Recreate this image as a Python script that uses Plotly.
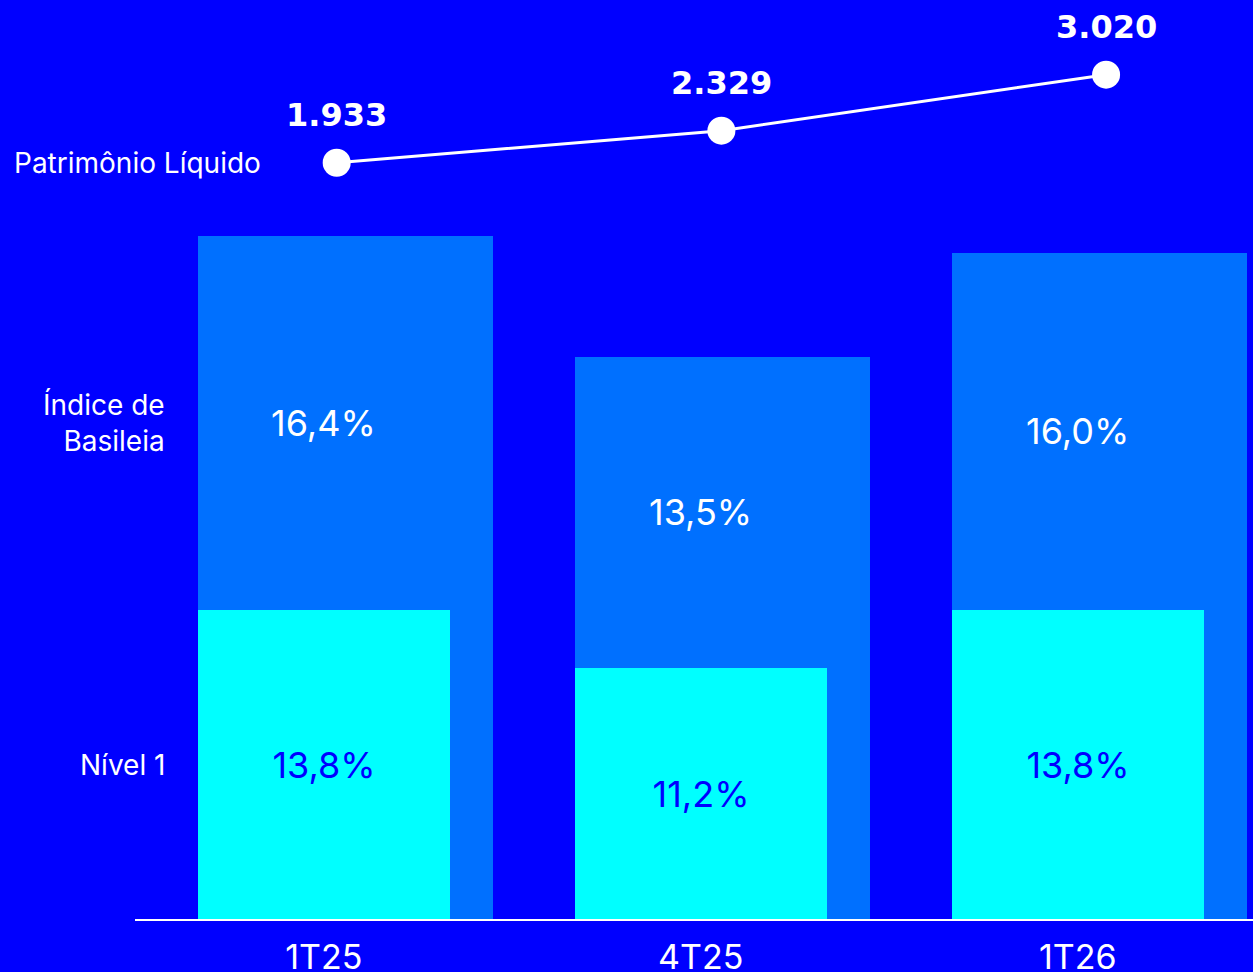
import plotly.graph_objects as go

categories = ["1T25", "4T25", "1T26"]
basileia = [16.4, 13.5, 16.0]
nivel1 = [13.8, 11.2, 13.8]
patrimonio = [1933, 2329, 3020]

basileia_labels = ["16,4%", "13,5%", "16,0%"]
nivel1_labels = ["13,8%", "11,2%", "13,8%"]
patrimonio_labels = ["1.933", "2.329", "3.020"]

BG = "#0000FF"
OUTER = "#0070FF"
INNER = "#00FFFF"
WHITE = "#FFFFFF"
FONT = "Inter"

W, H = 1253, 972
plot_h = 920

xpos = list(range(len(categories)))

y_max = 22.06
y2_max = 40.89
y3_range = [-7416, 3942]

fig = go.Figure()

fig.add_trace(go.Bar(
    x=xpos, y=basileia, marker=dict(color=OUTER, line=dict(width=0)),
    width=0.7825, offset=-0.3335, xaxis="x", yaxis="y",
    hoverinfo="skip", showlegend=False,
))
fig.add_trace(go.Bar(
    x=xpos, y=nivel1, marker=dict(color=INNER, line=dict(width=0)),
    width=0.667, offset=-0.3335, xaxis="x", yaxis="y2",
    text=nivel1_labels, textposition="inside", insidetextanchor="middle",
    textangle=0, textfont=dict(family=FONT, size=36, color=BG),
    hoverinfo="skip", showlegend=False,
))
fig.add_trace(go.Scatter(
    x=xpos, y=patrimonio, mode="lines+markers", xaxis="x2", yaxis="y3",
    line=dict(color=WHITE, width=3),
    marker=dict(color=WHITE, size=28, line=dict(width=0)),
    hoverinfo="skip", showlegend=False,
))

annotations = []
for i, (v, n, lab) in enumerate(zip(basileia, nivel1, basileia_labels)):
    mid = (v / y_max + n / y2_max) / 2
    annotations.append(dict(
        x=xpos[i], xref="x", y=mid, yref="paper", text=lab, showarrow=False,
        xanchor="center", yanchor="middle",
        font=dict(family=FONT, size=36, color=WHITE),
    ))
for i, (p, lab) in enumerate(zip(patrimonio, patrimonio_labels)):
    annotations.append(dict(
        x=xpos[i], xref="x2", y=p, yref="y3", text=lab, showarrow=False,
        xanchor="center", yanchor="middle", yshift=48,
        font=dict(family="DejaVu Sans", size=32, color=WHITE, weight="bold"),
    ))

# Left side labels
annotations.append(dict(
    x=12 / W, xref="paper", y=patrimonio[0], yref="y3", text="Patrimônio Líquido",
    showarrow=False, xanchor="left", yanchor="middle",
    font=dict(family=FONT, size=28, color=WHITE),
))
annotations.append(dict(
    x=167 / W, xref="paper", y=(basileia[0] / y_max + nivel1[0] / y2_max) / 2, yref="paper",
    text="Índice de<br>Basileia", showarrow=False, xanchor="right", yanchor="middle",
    align="right", font=dict(family=FONT, size=28, color=WHITE),
))
annotations.append(dict(
    x=167 / W, xref="paper", y=nivel1[0] / 2, yref="y2", text="Nível 1",
    showarrow=False, xanchor="right", yanchor="middle", align="right",
    font=dict(family=FONT, size=28, color=WHITE),
))

fig.update_layout(
    width=W, height=H,
    paper_bgcolor=BG, plot_bgcolor=BG,
    margin=dict(l=0, r=0, t=0, b=H - plot_h),
    barmode="overlay", bargap=0,
    annotations=annotations,
    shapes=[dict(type="line", xref="paper", yref="paper", x0=135 / W, x1=1, y0=0, y1=0,
                 line=dict(color=WHITE, width=2))],
    xaxis=dict(range=[-0.8588, 2.4648], tickvals=xpos, ticktext=categories,
               showgrid=False, zeroline=False, showline=False, ticks="",
               ticklabelstandoff=14, automargin=False,
               tickfont=dict(family=FONT, size=34, color=WHITE), fixedrange=True),
    xaxis2=dict(range=[-0.8752, 2.3819], overlaying="x", visible=False),
    yaxis=dict(range=[0, y_max], visible=False),
    yaxis2=dict(range=[0, y2_max], overlaying="y", visible=False),
    yaxis3=dict(range=y3_range, overlaying="y", visible=False),
)

fig.write_html(
    "out.html",
    config={"displayModeBar": False},
    post_script="document.body.style.margin='0';document.body.style.overflow='hidden';"
                "document.body.style.background='#0000FF';",
)
